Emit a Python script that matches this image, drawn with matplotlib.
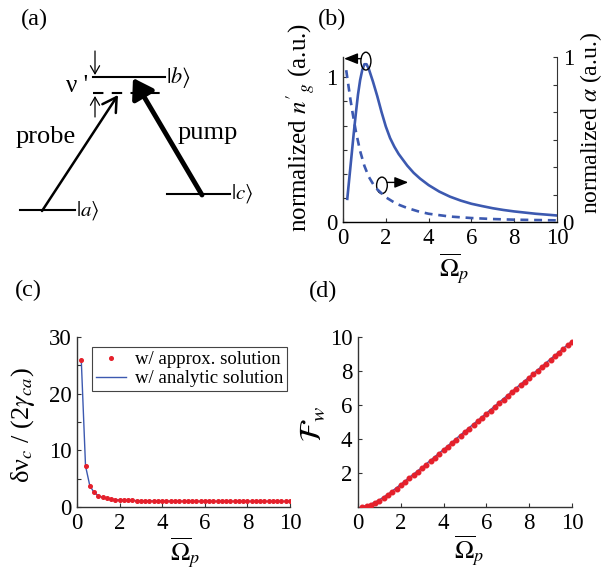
import matplotlib
matplotlib.use("Agg")
import matplotlib.pyplot as plt
from matplotlib.patches import Ellipse

plt.rcParams["font.family"] = ["Liberation Serif", "DejaVu Serif"]
plt.rcParams["mathtext.fontset"] = "stix"
plt.rcParams["font.size"] = 16.5

W, H = 603, 570

# (b) normalized group index (left axis) and absorption (right axis)
b_ng_x = [0.2, 0.3, 0.4, 0.5, 0.6, 0.7, 0.8, 0.9, 1.0, 1.1, 1.2, 1.4, 1.6, 1.8,
          2.0, 2.2, 2.4, 2.6, 2.8, 3.0, 3.3, 3.6, 4.0, 4.5, 5.0, 5.5, 6.0, 6.5,
          7.0, 7.5, 8.0, 9.0, 10.0]
b_ng_y = [0.16, 0.31, 0.46, 0.61, 0.75, 0.88, 0.98, 1.05, 1.09, 1.09, 1.06, 0.97,
          0.87, 0.76, 0.66, 0.58, 0.52, 0.47, 0.43, 0.39, 0.34, 0.30, 0.255, 0.21,
          0.175, 0.148, 0.126, 0.11, 0.095, 0.083, 0.073, 0.057, 0.045]
b_alpha_x = [0.15, 0.25, 0.35, 0.45, 0.6, 0.8, 1.0, 1.2, 1.5, 2.0, 2.5, 3.0, 3.5,
             4.0, 5.0, 6.0, 7.0, 8.0, 9.0, 10.0]
b_alpha_y = [0.92, 0.83, 0.74, 0.66, 0.55, 0.43, 0.34, 0.275, 0.21, 0.15, 0.11,
             0.085, 0.065, 0.05, 0.033, 0.024, 0.018, 0.014, 0.012, 0.01]

# (c) and (d) share the same probe grid
omega_p = [0.2, 0.4, 0.6, 0.8, 1.0, 1.2, 1.4, 1.6, 1.8, 2.0,
           2.2, 2.4, 2.6, 2.8, 3.0, 3.2, 3.4, 3.6, 3.8, 4.0,
           4.2, 4.4, 4.6, 4.8, 5.0, 5.2, 5.4, 5.6, 5.8, 6.0,
           6.2, 6.4, 6.6, 6.8, 7.0, 7.2, 7.4, 7.6, 7.8, 8.0,
           8.2, 8.4, 8.6, 8.8, 9.0, 9.2, 9.4, 9.6, 9.8, 10.0]
c_linewidth = [26.0, 7.25, 3.78, 2.56, 2.00, 1.69, 1.51, 1.39, 1.31, 1.25,
               1.21, 1.17, 1.15, 1.13, 1.11, 1.10, 1.09, 1.08, 1.07, 1.06,
               1.06, 1.05, 1.05, 1.04, 1.04, 1.04, 1.03, 1.03, 1.03, 1.03,
               1.03, 1.02, 1.02, 1.02, 1.02, 1.02, 1.02, 1.02, 1.02, 1.02,
               1.01, 1.01, 1.01, 1.01, 1.01, 1.01, 1.01, 1.01, 1.01, 1.01]
d_fw = [0.01, 0.06, 0.14, 0.25, 0.38, 0.54, 0.71, 0.89, 1.08, 1.28,
        1.48, 1.68, 1.88, 2.08, 2.28, 2.49, 2.70, 2.91, 3.12, 3.33,
        3.54, 3.75, 3.97, 4.18, 4.39, 4.61, 4.82, 5.03, 5.25, 5.46,
        5.67, 5.89, 6.10, 6.31, 6.52, 6.74, 6.95, 7.16, 7.38, 7.59,
        7.80, 8.02, 8.23, 8.44, 8.65, 8.87, 9.08, 9.29, 9.51, 9.72]
d_line_x = [0.2, 0.6, 1.0, 1.4, 1.8, 2.2, 2.6, 3.0, 4.0, 5.0, 6.0, 7.0, 8.0, 9.0, 10.0]
d_line_y = [0.02, 0.17, 0.42, 0.76, 1.13, 1.54, 1.94, 2.34, 3.39, 4.46, 5.52,
            6.59, 7.65, 8.71, 9.76]

x_ticks = [0, 2, 4, 6, 8, 10]
BLUE = "#3c59b0"
RED = "#e5202b"
SPINE = "#333333"
XLABEL = r"$\overline{\Omega}_p$"
LABEL_FS = 18
XLABEL_FS = 18.5


def px_axes(fig, left, top, right, bottom):
    return fig.add_axes([left / W, 1 - bottom / H, (right - left) / W, (bottom - top) / H])


def style_axes(ax):
    for side in ["top", "right"]:
        ax.spines[side].set_visible(False)
    for s in ax.spines.values():
        s.set_color(SPINE)
        s.set_linewidth(1.0)
    ax.tick_params(direction="in", length=3, width=0.8, colors=SPINE,
                   labelcolor="black", pad=4)


def set_labels(ax, xpos, ypos, ylabel, yfs=LABEL_FS):
    ax.set_xlabel(XLABEL, fontsize=XLABEL_FS, va="center")
    ax.xaxis.set_label_coords(*xpos)
    ax.set_ylabel(ylabel, fontsize=yfs, va="center")
    ax.yaxis.set_label_coords(*ypos)


def panel_a(fig):
    ax = fig.add_axes([0, 1 - 230 / H, 300 / W, 230 / H])
    ax.set_xlim(0, 300)
    ax.set_ylim(230, 0)
    ax.axis("off")
    k = dict(color="black", lw=1.5)
    ax.plot([20, 75], [210, 210], **k)
    ax.plot([93, 165], [77, 77], **k)
    ax.plot([167, 230], [194, 194], **k)
    ax.plot([93, 165], [93, 93], color="black", lw=1.5, dashes=(5, 4))
    ax.annotate("", xy=(118, 95), xytext=(42, 211),
                arrowprops=dict(arrowstyle="->,head_length=0.6,head_width=0.35", lw=1.8, color="black",
                                shrinkA=0, shrinkB=0))
    ax.annotate("", xy=(133, 78), xytext=(202, 195),
                arrowprops=dict(arrowstyle="-|>,head_length=0.7,head_width=0.45", lw=3.5, color="black",
                                shrinkA=0, shrinkB=0))
    ax.annotate("", xy=(95, 75), xytext=(95, 51),
                arrowprops=dict(arrowstyle="->,head_length=0.35,head_width=0.2", lw=0.9, color="black",
                                shrinkA=0, shrinkB=0))
    ax.annotate("", xy=(95, 96), xytext=(95, 117),
                arrowprops=dict(arrowstyle="->,head_length=0.35,head_width=0.2", lw=0.9, color="black",
                                shrinkA=0, shrinkB=0))
    ax.text(77, 86, "ν '", ha="center", va="center", fontsize=18)
    ax.text(166, 77, r"$|b\rangle$", ha="left", va="center", fontsize=16)
    ax.text(76, 211, r"$|a\rangle$", ha="left", va="center", fontsize=15)
    ax.text(231, 194, r"$|c\rangle$", ha="left", va="center", fontsize=15)
    ax.text(46, 137, "probe", ha="center", va="center", fontsize=19)
    ax.text(208, 133, "pump", ha="center", va="center", fontsize=19)


def panel_b(fig):
    ax = px_axes(fig, 343, 57, 557, 222)
    style_axes(ax)
    ax2 = ax.twinx()
    for side in ["top", "left"]:
        ax2.spines[side].set_visible(False)
    ax2.spines["right"].set_color(SPINE)
    ax2.tick_params(direction="in", length=3, width=0.8, colors=SPINE, labelcolor="black", pad=4)

    ax.plot(b_ng_x, b_ng_y, color=BLUE, lw=1.9)
    ax2.plot(b_alpha_x, b_alpha_y, color=BLUE, lw=1.9, dashes=(3, 2.2))

    ax.set_xlim(0, 10)
    ax.set_ylim(0, 1.14)
    ax2.set_ylim(0, 1.0)
    ax.set_xticks(x_ticks)
    sixths = [i / 6 for i in range(7)]
    ax.set_yticks(sixths)
    ax.set_yticklabels(["0", "", "", "", "", "", "1"])
    ax2.set_yticks(sixths)
    ax2.set_yticklabels(["0", "", "", "", "", "", "1"])
    set_labels(ax, (0.52, -0.28), (-0.20, 0.57), r"normalized $n'_{g}$ (a.u.)")
    ax2.set_ylabel(r"normalized $\alpha$ (a.u.)", fontsize=17, va="center")
    ax2.yaxis.set_label_coords(1.158, 0.6)

    ax2.add_patch(Ellipse((1.07, 0.975), 0.47, 0.108, fill=False, lw=1.0,
                          color="black", clip_on=False))
    ax2.annotate("", xy=(0.05, 0.99), xytext=(0.85, 0.99),
                 arrowprops=dict(arrowstyle="-|>,head_length=0.5,head_width=0.2", lw=1.0, color="black",
                                 shrinkA=0, shrinkB=0))
    ax2.add_patch(Ellipse((1.82, 0.222), 0.5, 0.1, fill=False, lw=1.0, color="black"))
    ax2.annotate("", xy=(3.05, 0.24), xytext=(2.07, 0.24),
                 arrowprops=dict(arrowstyle="-|>,head_length=0.5,head_width=0.2", lw=1.0, color="black",
                                 shrinkA=0, shrinkB=0))


def panel_c(fig):
    ax = px_axes(fig, 77, 337, 290, 507)
    style_axes(ax)
    ax.plot(omega_p, c_linewidth, color=BLUE, lw=1.0, label="w/ analytic solution", zorder=2)
    ax.plot(omega_p, c_linewidth, ls="none", marker="o", ms=2.6, color=RED, mec=RED,
            label="w/ approx. solution", zorder=3)
    ax.set_xlim(0, 10)
    ax.set_ylim(0, 30)
    ax.set_xticks(x_ticks)
    ax.set_yticks([0, 5, 10, 15, 20, 25, 30])
    ax.set_yticklabels(["0", "", "10", "", "20", "", "30"])
    set_labels(ax, (0.507, -0.27), (-0.255, 0.48), r"δν$_c$ / (2$\gamma_{ca}$)", yfs=19)
    h, l = ax.get_legend_handles_labels()
    leg = ax.legend(h[::-1], l[::-1], loc="upper right", bbox_to_anchor=(0.986, 0.94),
                    borderaxespad=0, fancybox=False, framealpha=1, edgecolor="#444444",
                    fontsize=13.5, handlelength=1.6, handletextpad=0.5, borderpad=0.2,
                    labelspacing=0.1)
    leg.get_frame().set_linewidth(0.8)


def panel_d(fig):
    ax = px_axes(fig, 358, 337, 572, 507)
    style_axes(ax)
    ax.plot(d_line_x, d_line_y, color=BLUE, lw=1.0, zorder=2)
    ax.plot(omega_p, d_fw, ls="none", marker="o", ms=3.3, color=RED, mec=RED, zorder=3)
    ax.set_xlim(0, 10)
    ax.set_ylim(0, 10)
    ax.set_xticks(x_ticks)
    ax.set_yticks([0, 2, 4, 6, 8, 10])
    ax.set_yticklabels(["", "2", "4", "6", "8", "10"])
    set_labels(ax, (0.52, -0.255), (-0.21, 0.49), r"$\mathcal{F}_w$", yfs=22)


def main():
    fig = plt.figure(figsize=(W / 100, H / 100), dpi=100)
    panel_a(fig)
    panel_b(fig)
    panel_c(fig)
    panel_d(fig)
    for label, x, y in [("(a)", 34, 19), ("(b)", 332, 19), ("(c)", 28, 290), ("(d)", 323, 291)]:
        fig.text(x / W, 1 - y / H, label, ha="center", va="center", fontsize=17.5)
    fig.savefig("out.png", dpi=100)


if __name__ == "__main__":
    main()
